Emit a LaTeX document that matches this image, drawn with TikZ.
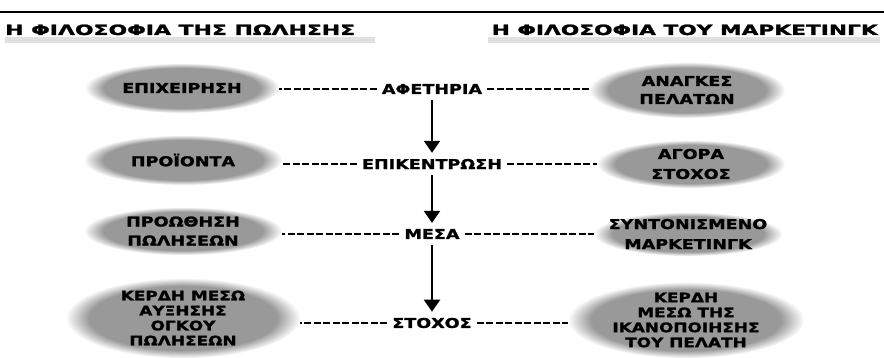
\documentclass[tikz,border=0pt]{standalone}
\usepackage{fontspec}
\usetikzlibrary{arrows.meta,shapes.geometric,fadings}
\newfontfamily\grf{DejaVu Sans}[FakeStretch=1.3, FakeBold=1.6]
\begin{document}
\begin{tikzpicture}[x=1pt,y=-1pt,
  blob/.style={fill=black!40, path fading=circle with fuzzy edge 20 percent},
  band/.style={fill=black!12},
  area/.style={ellipse, inner sep=0pt},
  lbl/.style={font=\grf\bfseries\fontsize{13.5}{17}\selectfont, align=center, inner sep=0pt},
  lbls/.style={font=\grf\bfseries\fontsize{13}{15}\selectfont, align=center, inner sep=0pt},
  hub/.style={font=\grf\bfseries\fontsize{13.5}{15}\selectfont, inner xsep=5pt, inner ysep=6pt},
  titl/.style={inner sep=0pt},
  dashline/.style={line width=1.5pt, dash pattern=on 7pt off 2.5pt},
  flow/.style={line width=2.2pt, -{Triangle[width=16pt,length=12pt]}}
]
\useasboundingbox (0,0) rectangle (884,358);

% top rule
\draw[line width=2.5pt] (0,12) -- (884,12);

% titles
\fill[band] (5,37) rectangle (375,43);
\fill[band] (488,37) rectangle (880,43);
\node[titl, anchor=base west] (t1) at (5,35)
  {\resizebox{350pt}{10.5pt}{\grf\bfseries Η ΦΙΛΟΣΟΦΙΑ ΤΗΣ ΠΩΛΗΣΗΣ}};
\node[titl, anchor=base east] (t2) at (878,35)
  {\resizebox{386pt}{10.5pt}{\grf\bfseries Η ΦΙΛΟΣΟΦΙΑ ΤΟΥ ΜΑΡΚΕΤΙΝΓΚ}};

% centre column
\node[hub] (a1) at (432,89) {ΑΦΕΤΗΡΙΑ};
\node[hub] (a2) at (432,164) {ΕΠΙΚΕΝΤΡΩΣΗ};
\node[hub] (a3) at (432,234) {ΜΕΣΑ};
\node[hub] (a4) at (432,323) {ΣΤΟΧΟΣ};

% left areas
\node[area, minimum width=194pt, minimum height=50pt] (L1) at (182,88) {};
\node[area, minimum width=198pt, minimum height=50pt] (L2) at (183,160) {};
\node[area, minimum width=198pt, minimum height=48pt] (L3) at (183,231) {};
\node[area, minimum width=234pt, minimum height=80pt] (L4) at (183,318) {};
% right areas
\node[area, minimum width=196pt, minimum height=56pt] (R1) at (687,90) {};
\node[area, minimum width=188pt, minimum height=48pt] (R2) at (691,164) {};
\node[area, minimum width=188pt, minimum height=44pt] (R3) at (688,234) {};
\node[area, minimum width=236pt, minimum height=76pt] (R4) at (686,320) {};

\fill[blob] (L1.center) ellipse [x radius=97, y radius=25];
\fill[blob] (L2.center) ellipse [x radius=99, y radius=25];
\fill[blob] (L3.center) ellipse [x radius=99, y radius=24];
\fill[blob] (L4.center) ellipse [x radius=117, y radius=40];
\fill[blob] (R1.center) ellipse [x radius=98, y radius=28];
\fill[blob] (R2.center) ellipse [x radius=94, y radius=24];
\fill[blob] (R3.center) ellipse [x radius=94, y radius=22];
\fill[blob] (R4.center) ellipse [x radius=118, y radius=38];

\node[lbl] (L1t) at (L1.center) {ΕΠΙΧΕΙΡΗΣΗ};
\node[lbl] (L2t) at (L2.center) {ΠΡΟΪΟΝΤΑ};
\node[lbl, font=\grf\bfseries\fontsize{13.5}{19}\selectfont] (L3t) at (L3.center) {ΠΡΟΩΘΗΣΗ\\ΠΩΛΗΣΕΩΝ};
\node[lbls] (L4t) at (L4.center) {ΚΕΡΔΗ ΜΕΣΩ\\ΑΥΞΗΣΗΣ\\ΟΓΚΟΥ\\ΠΩΛΗΣΕΩΝ};
\node[lbl, font=\grf\bfseries\fontsize{13.5}{18}\selectfont] (R1t) at (R1.center) {ΑΝΑΓΚΕΣ\\ΠΕΛΑΤΩΝ};
\node[lbl, font=\grf\bfseries\fontsize{13.5}{20}\selectfont] (R2t) at (R2.center) {ΑΓΟΡΑ\\ΣΤΟΧΟΣ};
\node[lbl, font=\grf\bfseries\fontsize{13.5}{20}\selectfont] (R3t) at (R3.center) {ΣΥΝΤΟΝΙΣΜΕΝΟ\\ΜΑΡΚΕΤΙΝΓΚ};
\node[lbls] (R4t) at (R4.center) {ΚΕΡΔΗ\\ΜΕΣΩ ΤΗΣ\\ΙΚΑΝΟΠΟΙΗΣΗΣ\\ΤΟΥ ΠΕΛΑΤΗ};

% dashed links
\draw[dashline] (a1.west) -- (a1.west -| L1.east);
\draw[dashline] (a2.west) -- (a2.west -| L2.east);
\draw[dashline] (a3.west) -- (a3.west -| L3.east);
\draw[dashline] (a4.west) -- (a4.west -| L4.east);
\draw[dashline] (a1.east) -- (a1.east -| R1.west);
\draw[dashline] (a2.east) -- (a2.east -| R2.west);
\draw[dashline] (a3.east) -- (a3.east -| R3.west);
\draw[dashline] (a4.east) -- (a4.east -| R4.west);

% arrows
\draw[flow] (a1) -- (a2);
\draw[flow] (a2) -- (a3);
\draw[flow] (a3) -- (a4);
\end{tikzpicture}
\end{document}
